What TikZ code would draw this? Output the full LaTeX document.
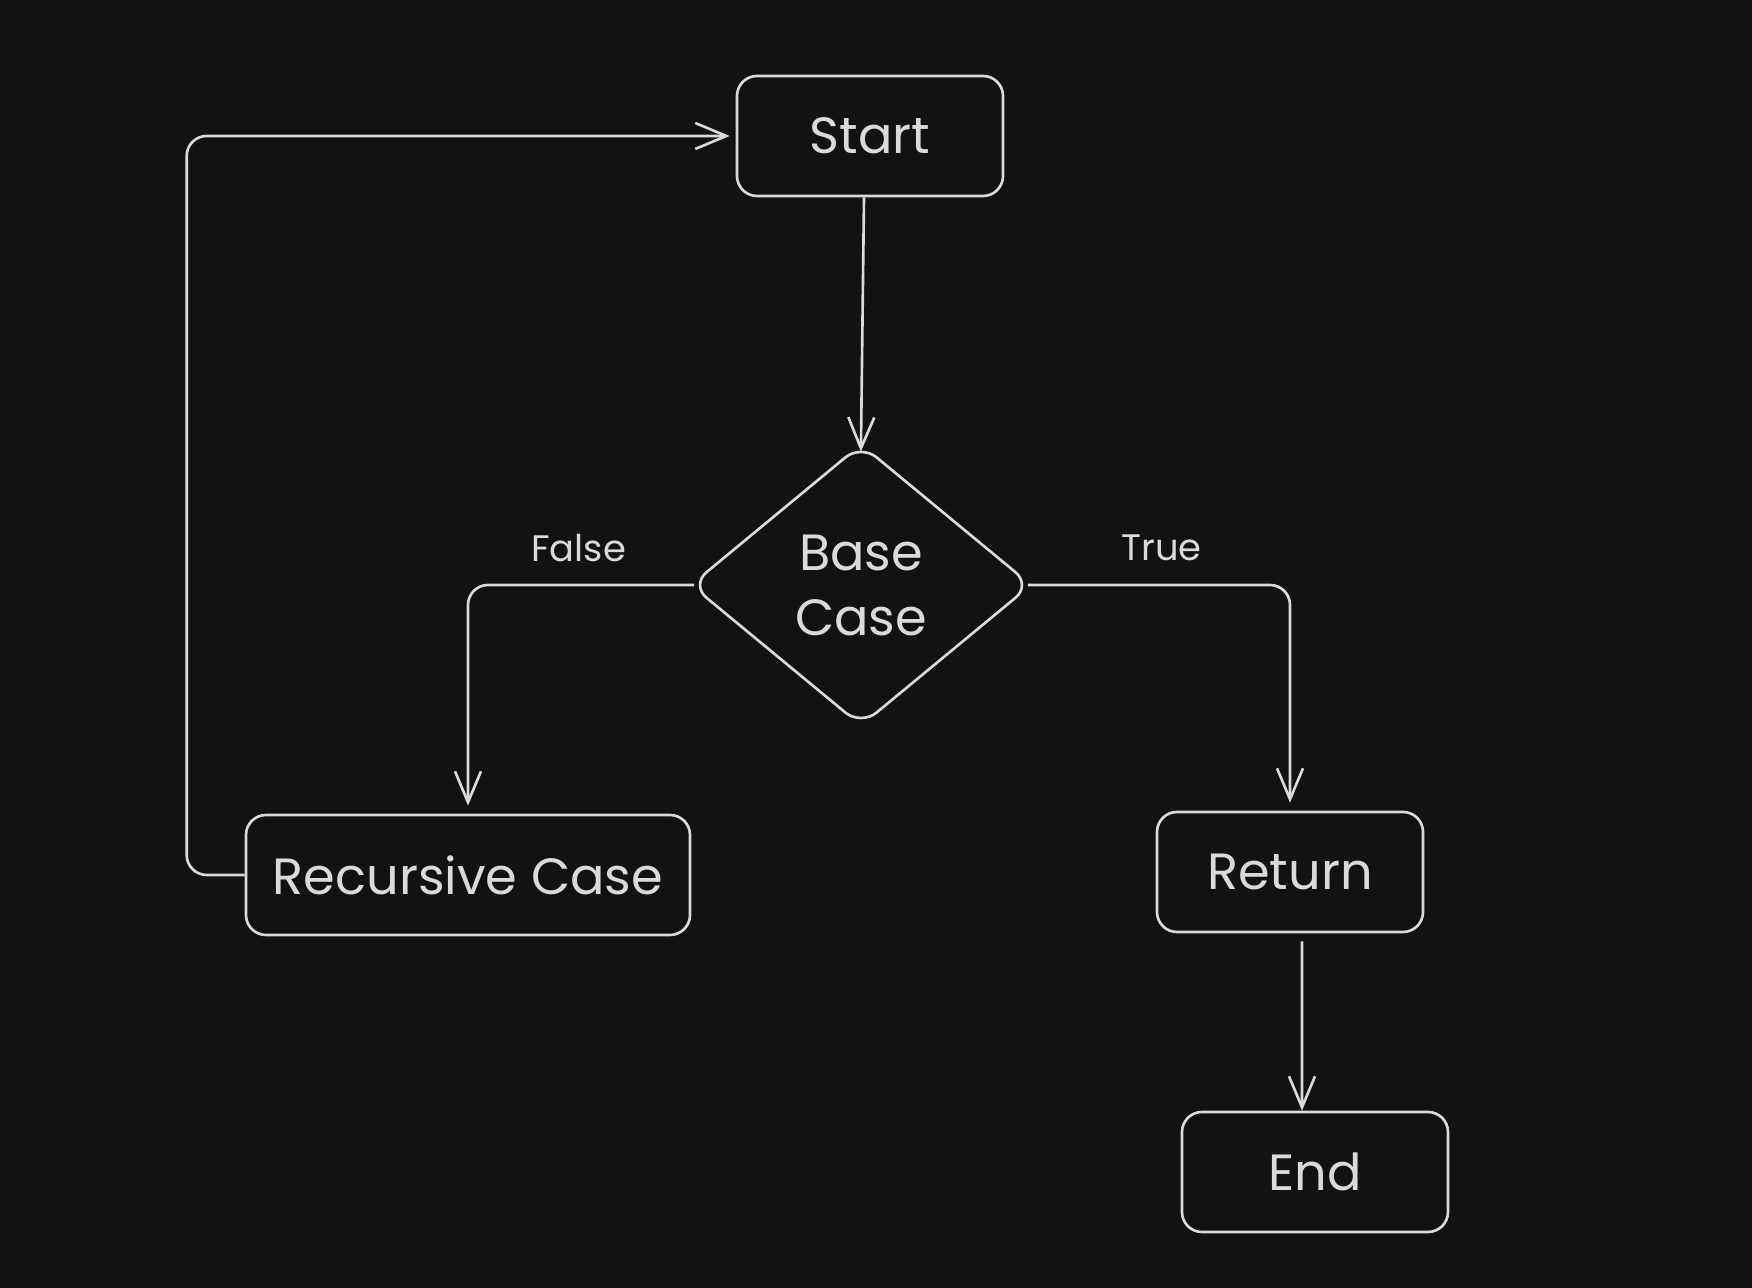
\documentclass[tikz,border=0pt]{standalone}
\usepackage{fontspec}
\setmainfont{Poppins}
\usetikzlibrary{shapes.geometric,arrows.meta}
\definecolor{board}{RGB}{18,18,18}
\definecolor{chalk}{RGB}{218,218,218}

\tikzset{
	box/.style={rectangle,rounded corners=0.4cm,draw=chalk,line width=1.5pt,text=chalk,
		minimum width=5.32cm,minimum height=2.4cm,font=\fontsize{29}{34}\selectfont},
	decision/.style={diamond,rounded corners=0.4cm,draw=chalk,line width=1.5pt,text=chalk,
		minimum width=6.82cm,minimum height=5.64cm,inner sep=0pt,align=center,
		font=\fontsize{29}{37}\selectfont},
	link/.style={draw=chalk,line width=1.5pt,rounded corners=0.4cm,
		-{Straight Barb[length=0.62cm,width=0.52cm,line width=1.5pt]}},
	tag/.style={text=chalk,font=\fontsize{21}{24}\selectfont}
}

\begin{document}
\begin{tikzpicture}
	\fill[board] (0,0) rectangle (35.04,25.76);
	\useasboundingbox (0,0) rectangle (35.04,25.76);

	\node[box] (start) at (17.40,23.04) {Start};
	\node[decision] (base) at (17.22,14.06) {Base\\Case};
	\node[box,minimum width=8.88cm] (rec) at (9.36,8.26) {Recursive Case};
	\node[box] (ret) at (25.80,8.32) {Return};
	\node[box] (stop) at (26.30,2.32) {End};

	\draw[link,shorten >=-0.18cm] ([xshift=-0.12cm]start.south) -- (base.north);
	\draw[link,shorten <=-0.1cm,shorten >=0.16cm] (base.west) -| node[tag,pos=0.25,yshift=0.74cm] {False} (rec.north);
	\draw[link,shorten <=-0.1cm,shorten >=0.16cm] (base.east) -| node[tag,pos=0.25,yshift=0.74cm] {True} (ret.north);
	\draw[link,shorten <=0.16cm] ([xshift=0.24cm]ret.south) -- ([xshift=-0.26cm]stop.north);
	\draw[link,shorten >=0.12cm] (rec.west) -- ++(-1.16,0) |- (start.west);
\end{tikzpicture}
\end{document}
